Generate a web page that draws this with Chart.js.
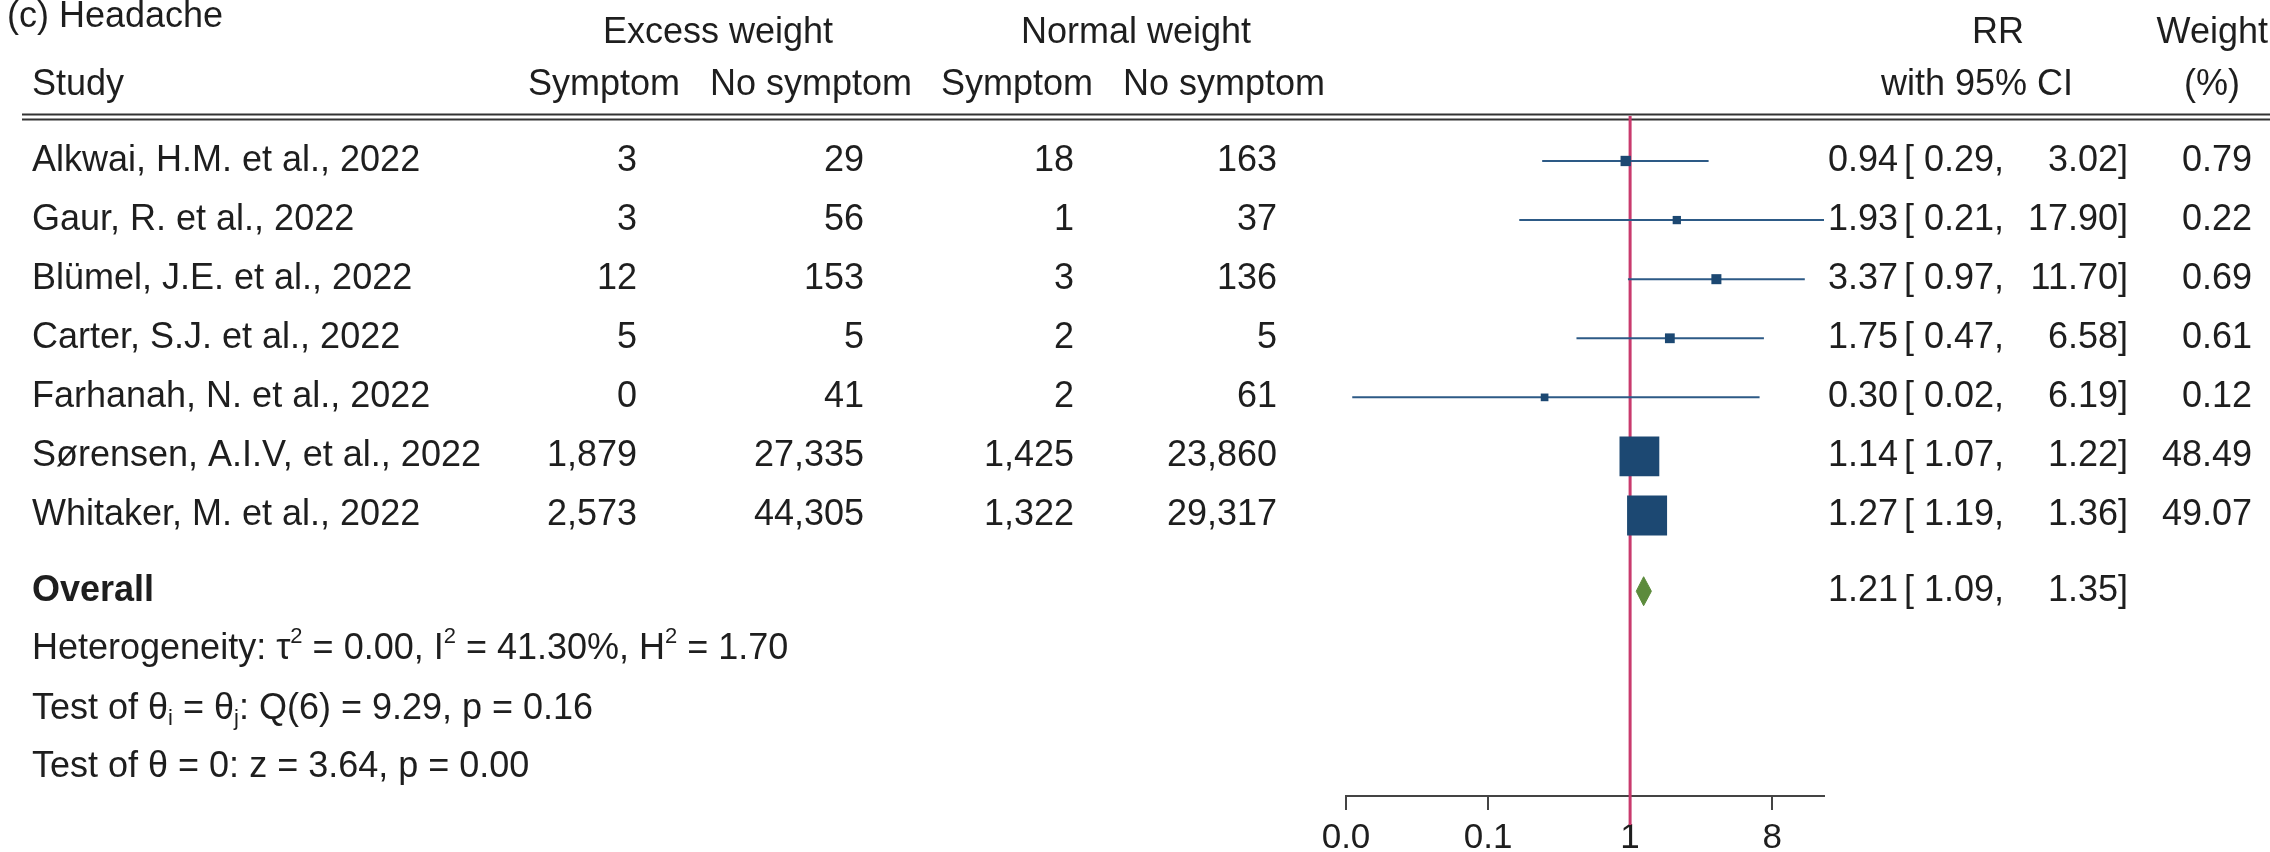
<!DOCTYPE html>
<html>
<head>
<meta charset="utf-8">
<script src="https://cdn.jsdelivr.net/npm/chart.js@4.4.1/dist/chart.umd.min.js"></script>
<style>
  html, body { margin: 0; padding: 0; background: #fff; }
  #wrap { position: relative; width: 2270px; height: 852px; }
</style>
</head>
<body>
<div id="wrap"><canvas id="forest"></canvas></div>
<script>
// ---- data ----
const studies = [
  "Alkwai, H.M. et al., 2022",
  "Gaur, R. et al., 2022",
  "Blümel, J.E. et al., 2022",
  "Carter, S.J. et al., 2022",
  "Farhanah, N. et al., 2022",
  "Sørensen, A.I.V, et al., 2022",
  "Whitaker, M. et al., 2022",
];
const excessSymptom = [3, 3, 12, 5, 0, 1879, 2573];
const excessNoSymptom = [29, 56, 153, 5, 41, 27335, 44305];
const normalSymptom = [18, 1, 3, 2, 2, 1425, 1322];
const normalNoSymptom = [163, 37, 136, 5, 61, 23860, 29317];
const rr = [0.94, 1.93, 3.37, 1.75, 0.30, 1.14, 1.27];
const rrLow = [0.29, 0.21, 0.97, 0.47, 0.02, 1.07, 1.19];
const rrHigh = [3.02, 17.90, 11.70, 6.58, 6.19, 1.22, 1.36];
const weights = [0.79, 0.22, 0.69, 0.61, 0.12, 48.49, 49.07];
const overall = [1.21, 1.09, 1.35]; // estimate, low, high
const tau2 = "0.00", i2 = "41.30", h2 = "1.70";
const qStat = "9.29", qDf = 6, qP = "0.16";
const zStat = "3.64", zP = "0.00";
// x axis ticks sit at ln(RR) = -4, -2, 0, 2
const tickValues = [Math.exp(-4), Math.exp(-2), 1, Math.exp(2)];
const tickLabels = ["0.0", "0.1", "1", "8"];

// ---- layout / style ----
const FONT = '"Liberation Sans", Arial, sans-serif';
const TEXT = "#1e1e1e";
const BLUE = "#1c4872";
const LINE_BLUE = "#2d5a86";
const PINK = "#c93a6d";
const GREEN = "#5c8b3c";
const FS = 36;
const overallRow = 7.28;
const statRows = [8.26, 9.27, 10.25];

function markerSide(w) {
  return 6 + 34 * Math.sqrt(w / 49.07);
}
const fmt = n => n.toLocaleString("en-US");

function txt(ctx, s, x, y, align, size, bold) {
  ctx.font = (bold ? "bold " : "") + size + "px " + FONT;
  ctx.textAlign = align;
  ctx.fillText(s, x, y);
}

// draws a string with super/subscripts, left aligned
function rich(ctx, parts, x, y, size) {
  ctx.textAlign = "left";
  for (const p of parts) {
    const s = p.sup || p.sub ? Math.round(size * 0.6) : size;
    ctx.font = s + "px " + FONT;
    const dy = p.sup ? -size * 0.33 : p.sub ? size * 0.28 : 0;
    ctx.fillText(p.t, x, y + dy);
    x += ctx.measureText(p.t).width;
  }
}

const tablePlugin = {
  id: "table",
  beforeDatasetsDraw(chart) {
    const ctx = chart.ctx;
    ctx.save();
    ctx.strokeStyle = "#333";
    ctx.lineWidth = 2;
    [114.5, 119.5].forEach(y => {
      ctx.beginPath();
      ctx.moveTo(22, y);
      ctx.lineTo(2270, y);
      ctx.stroke();
    });
    ctx.restore();
  },
  afterDraw(chart) {
    const ctx = chart.ctx;
    const ys = chart.scales.y;
    const rowY = i => ys.getPixelForValue(i);
    ctx.save();
    ctx.fillStyle = TEXT;
    ctx.textBaseline = "middle";

    txt(ctx, "(c) Headache", 7, 17, "left", 36);
    // header line 1
    txt(ctx, "Excess weight", 718, 33, "center", FS);
    txt(ctx, "Normal weight", 1136, 33, "center", FS);
    txt(ctx, "RR", 1998, 33, "center", FS);
    txt(ctx, "Weight", 2268, 33, "right", FS);
    // header line 2
    txt(ctx, "Study", 32, 85, "left", FS);
    txt(ctx, "Symptom", 680, 85, "right", FS);
    txt(ctx, "No symptom", 912, 85, "right", FS);
    txt(ctx, "Symptom", 1093, 85, "right", FS);
    txt(ctx, "No symptom", 1325, 85, "right", FS);
    txt(ctx, "with 95% CI", 1977, 85, "center", FS);
    txt(ctx, "(%)", 2212, 85, "center", FS);

    studies.forEach((name, i) => {
      const y = rowY(i);
      txt(ctx, name, 32, y, "left", FS);
      txt(ctx, fmt(excessSymptom[i]), 637, y, "right", FS);
      txt(ctx, fmt(excessNoSymptom[i]), 864, y, "right", FS);
      txt(ctx, fmt(normalSymptom[i]), 1074, y, "right", FS);
      txt(ctx, fmt(normalNoSymptom[i]), 1277, y, "right", FS);
      txt(ctx, rr[i].toFixed(2), 1898, y, "right", FS);
      txt(ctx, "[ " + rrLow[i].toFixed(2) + ",", 1904, y, "left", FS);
      txt(ctx, rrHigh[i].toFixed(2) + "]", 2128, y, "right", FS);
      txt(ctx, weights[i].toFixed(2), 2252, y, "right", FS);
    });

    const oy = rowY(overallRow);
    txt(ctx, "Overall", 32, oy, "left", FS, true);
    txt(ctx, overall[0].toFixed(2), 1898, oy, "right", FS);
    txt(ctx, "[ " + overall[1].toFixed(2) + ",", 1904, oy, "left", FS);
    txt(ctx, overall[2].toFixed(2) + "]", 2128, oy, "right", FS);

    rich(ctx, [
      { t: "Heterogeneity: τ" }, { t: "2", sup: true },
      { t: " = " + tau2 + ", I" }, { t: "2", sup: true },
      { t: " = " + i2 + "%, H" }, { t: "2", sup: true },
      { t: " = " + h2 },
    ], 32, rowY(statRows[0]), FS);
    rich(ctx, [
      { t: "Test of θ" }, { t: "i", sub: true },
      { t: " = θ" }, { t: "j", sub: true },
      { t: ": Q(" + qDf + ") = " + qStat + ", p = " + qP },
    ], 32, rowY(statRows[1]), FS);
    rich(ctx, [
      { t: "Test of θ = 0: z = " + zStat + ", p = " + zP },
    ], 32, rowY(statRows[2]), FS);

    ctx.restore();
  },
};

// ---- datasets ----
const datasets = [];

// study markers (drawn on top)
datasets.push({
  data: rr.map((v, i) => ({ x: v, y: i })),
  showLine: false,
  pointStyle: "rect",
  pointRadius: c => markerSide(weights[c.dataIndex]) / (2 * Math.SQRT1_2),
  pointBackgroundColor: BLUE,
  pointBorderWidth: 0,
  order: 0,
  clip: false,
});

// confidence intervals, cut at the right end of the axis
rr.forEach((v, i) => {
  datasets.push({
    data: [{ x: rrLow[i], y: i }, { x: rrHigh[i], y: i }],
    borderColor: LINE_BLUE,
    borderWidth: 2,
    order: 1,
    clip: { left: 10, top: 10, right: 0, bottom: 10 },
  });
});

// overall diamond: two halves, lower one filled to the upper one
const dh = 0.245;
datasets.push({
  data: [
    { x: overall[1], y: overallRow },
    { x: overall[0], y: overallRow - dh },
    { x: overall[2], y: overallRow },
  ],
  borderColor: GREEN,
  borderWidth: 1,
  fill: false,
  order: 1,
});
datasets.push({
  data: [
    { x: overall[1], y: overallRow },
    { x: overall[0], y: overallRow + dh },
    { x: overall[2], y: overallRow },
  ],
  borderColor: GREEN,
  borderWidth: 1,
  backgroundColor: GREEN,
  fill: "-1",
  order: 1,
});

// no-effect line at RR = 1
datasets.push({
  data: [{ x: 1, y: -0.761 }, { x: 1, y: 11.235 }],
  borderColor: PINK,
  borderWidth: 3,
  order: 3,
  clip: false,
});

new Chart(document.getElementById("forest"), {
  type: "line",
  data: { datasets },
  plugins: [tablePlugin],
  options: {
    responsive: true,
    maintainAspectRatio: false,
    animation: false,
    events: [],
    layout: { padding: { left: 1346, right: 446, top: 116, bottom: 0 } },
    elements: {
      point: { radius: 0 },
      line: { tension: 0 },
    },
    plugins: {
      legend: { display: false },
      tooltip: { enabled: false },
    },
    scales: {
      x: {
        type: "logarithmic",
        min: Math.exp(-4),
        max: Math.exp(2.73),
        afterBuildTicks: s => { s.ticks = tickValues.map(v => ({ value: v })); },
        afterFit: s => { s.height = 56; },
        ticks: {
          autoSkip: false,
          maxRotation: 0,
          padding: 7,
          color: TEXT,
          font: { family: FONT, size: 35 },
          callback: (v, i) => tickLabels[i],
        },
        grid: { drawOnChartArea: false, drawTicks: true, tickLength: 14, color: "#444", lineWidth: 2 },
        border: { display: true, color: "#444", width: 2 },
      },
      y: {
        type: "linear",
        display: false,
        reverse: true,
        min: -0.761,
        max: 10.745,
      },
    },
  },
});
</script>
</body>
</html>
